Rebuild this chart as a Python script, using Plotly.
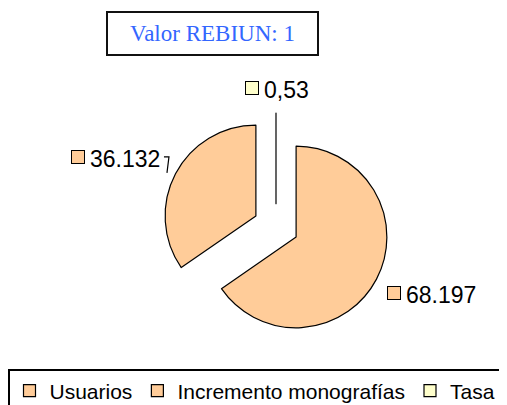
import math
import plotly.graph_objects as go

# ---- data ----
labels = ["Usuarios", "Incremento monografías", "Tasa"]
values = [68197, 36132, 0.53]
colors = ["#FFCC99", "#FFCC99", "#FFFFCC"]
title_text = "Valor REBIUN: 1"

# ---- layout constants (page pixels) ----
W, H = 507, 405
OFF = 8                    # page body margin offset of the plot div
PULL = 0.25
CX, CY = 276, 227          # pie centre on page
HALF = 113.75              # half size of pie domain box
R = HALF / (1 + PULL)      # radius plotly will use
FS = 23                    # label font size
SANS = "Liberation Sans, Arial, sans-serif"
SERIF = "Liberation Serif, Times New Roman, serif"


def px2paper(x, y):
    """page pixel -> paper coordinate (figure drawn with OFF px page margin)"""
    return (x - OFF) / W, 1 - (y - OFF) / H


def fmt(v):
    if float(v).is_integer():
        return f"{int(v):,}".replace(",", ".")
    return f"{v}".replace(".", ",")


def text_width(s, fs):
    w = 0.0
    for ch in s:
        w += 0.278 if ch in ".," else 0.556
    return w * fs


dx0, dy0 = px2paper(CX - HALF, CY + HALF)
dx1, dy1 = px2paper(CX + HALF, CY - HALF)

fig = go.Figure(
    go.Pie(
        labels=labels,
        values=values,
        sort=False,
        direction="clockwise",
        rotation=0,
        pull=[PULL] * len(values),
        marker=dict(colors=colors, line=dict(color="black", width=1.2)),
        textinfo="none",
        hoverinfo="label+value",
        domain=dict(x=[dx0, dx1], y=[dy0, dy1]),
        showlegend=True,
    )
)

annotations = []
shapes = []

# title box
tx, ty = px2paper(212.5, 33.5)
annotations.append(dict(
    x=tx, y=ty, xref="paper", yref="paper", xanchor="center", yanchor="middle",
    text=title_text, showarrow=False, width=209, height=41, borderpad=0,
    bordercolor="#111111", borderwidth=2, bgcolor="white",
    font=dict(family=SERIF, size=23, color="#3366FF"),
))

# data labels with legend keys
total = sum(values)
cum = 0.0
KEY = 12
GAP = 5
DL = R * (1 + PULL) + 15
for lab, v, c in zip(labels, values, colors):
    mid = (cum + v / 2) / total * 360.0
    cum += v
    dx = math.sin(math.radians(mid))
    dy = math.cos(math.radians(mid))   # upward
    px = CX + DL * dx
    py = CY - DL * dy
    s = fmt(v)
    tw = text_width(s, FS)
    bw = KEY + GAP + tw
    if dx > 0.1:
        left = px - 3
    elif dx < -0.1:
        left = px - bw - 4
    else:
        left = px - bw / 2
    yc = py - 8 if dy > 0 else py + 9
    kx, ky = px2paper(left, yc - 2)
    annotations.append(dict(
        x=kx, y=ky, xref="paper", yref="paper", xanchor="left", yanchor="middle",
        text=" ", showarrow=False, width=KEY, height=KEY, borderpad=0,
        bgcolor=c, bordercolor="black", borderwidth=1, font=dict(size=6),
    ))
    lx, ly = px2paper(left + KEY + GAP, yc)
    annotations.append(dict(
        x=lx, y=ly, xref="paper", yref="paper", xanchor="left", yanchor="middle",
        text=s, showarrow=False, font=dict(family=SANS, size=FS, color="black"),
    ))
    # short leader line for labels left of the pie
    if dx < -0.1:
        xe = left + bw + 6
        p0 = px2paper(xe, yc - 2)
        p1 = px2paper(xe + 5, yc - 2)
        p2 = px2paper(xe + 3, yc + 14)
        shapes.append(dict(
            type="path", xref="paper", yref="paper",
            path=f"M{p0[0]},{p0[1]} L{p1[0]},{p1[1]} L{p2[0]},{p2[1]}",
            line=dict(color="black", width=1.2),
        ))

lgx, lgy = px2paper(8, 370)
fig.update_layout(
    width=W, height=H,
    margin=dict(l=0, r=0, t=0, b=0),
    paper_bgcolor="white",
    plot_bgcolor="white",
    separators=",.",
    annotations=annotations,
    shapes=shapes,
    legend=dict(
        orientation="h", x=lgx, y=lgy, xanchor="left", yanchor="top",
        bordercolor="black", borderwidth=1.5, bgcolor="white",
        font=dict(family=SANS, size=21, color="black"),
        itemwidth=30, traceorder="normal",
    ),
)

fig.write_html("out.html")
